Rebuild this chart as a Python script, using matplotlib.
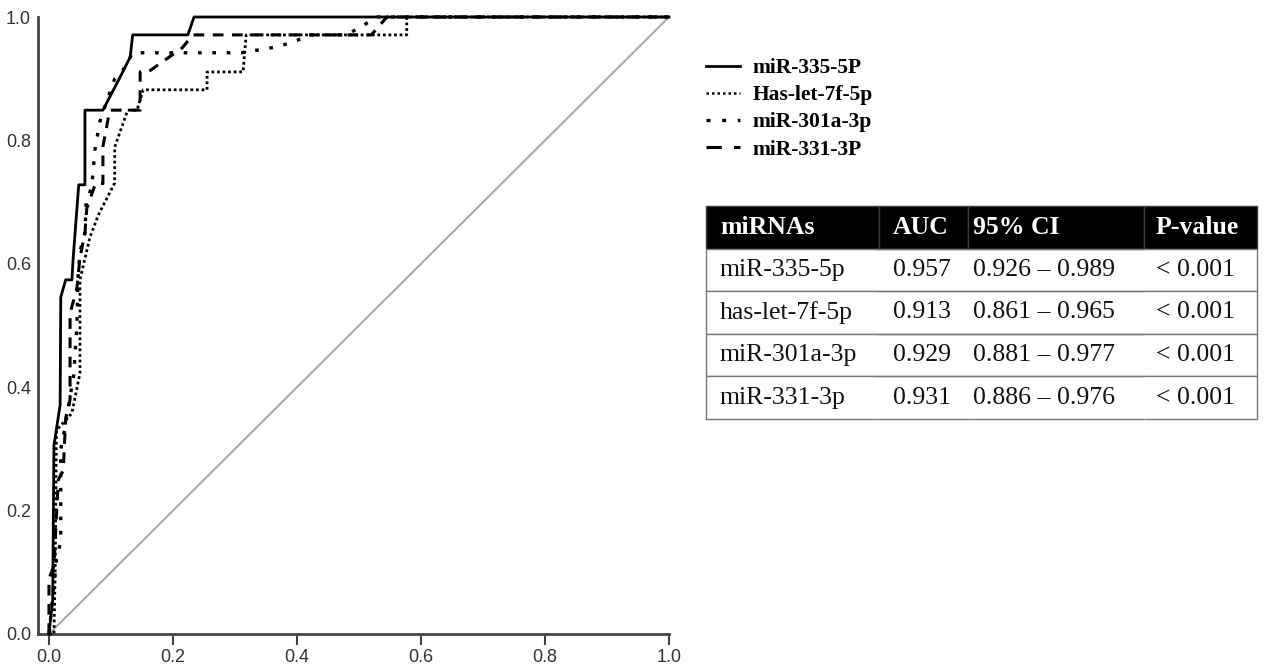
import matplotlib
matplotlib.use('Agg')
import matplotlib.pyplot as plt
from matplotlib.lines import Line2D
from matplotlib.font_manager import FontProperties

# ROC points (false positive rate, true positive rate)
fpr_335 = [0, 0.006, 0.008, 0.018, 0.019, 0.027, 0.037, 0.039, 0.048, 0.058, 0.058, 0.087,
           0.118, 0.131, 0.135, 0.224, 0.234, 1.0]
tpr_335 = [0, 0.055, 0.306, 0.371, 0.546, 0.574, 0.574, 0.609, 0.728, 0.728, 0.849, 0.849,
           0.909, 0.935, 0.971, 0.971, 1.0, 1.0]

fpr_let = [0, 0.008, 0.010, 0.012, 0.030, 0.037, 0.050, 0.050, 0.066, 0.080, 0.106, 0.106,
           0.127, 0.142, 0.152, 0.255, 0.255, 0.313, 0.318, 0.577, 0.577, 1.0]
tpr_let = [0, 0.0, 0.10, 0.33, 0.35, 0.358, 0.423, 0.574, 0.643, 0.68, 0.731, 0.789,
           0.849, 0.849, 0.882, 0.882, 0.911, 0.911, 0.971, 0.971, 1.0, 1.0]

fpr_301 = [0, 0.005, 0.012, 0.019, 0.019, 0.025, 0.030, 0.040, 0.045, 0.047, 0.050, 0.058,
           0.060, 0.069, 0.074, 0.082, 0.095, 0.106, 0.120, 0.135, 0.310, 0.370, 0.400,
           0.420, 0.480, 0.530, 1.0]
tpr_301 = [0, 0.05, 0.12, 0.15, 0.30, 0.33, 0.36, 0.42, 0.50, 0.58, 0.62, 0.65,
           0.70, 0.725, 0.784, 0.83, 0.869, 0.90, 0.915, 0.942, 0.942, 0.952, 0.962,
           0.971, 0.971, 1.0, 1.0]

fpr_331 = [0, 0.0, 0.008, 0.015, 0.023, 0.027, 0.034, 0.034, 0.045, 0.050, 0.058, 0.061,
           0.075, 0.087, 0.087, 0.098, 0.147, 0.147, 0.160, 0.215, 0.232, 0.520, 0.545, 1.0]
tpr_331 = [0, 0.09, 0.11, 0.25, 0.265, 0.35, 0.38, 0.52, 0.56, 0.61, 0.65, 0.69,
           0.73, 0.73, 0.79, 0.849, 0.849, 0.911, 0.911, 0.95, 0.971, 0.971, 1.0, 1.0]

legend_labels = ['miR-335-5P', 'Has-let-7f-5p', 'miR-301a-3p', 'miR-331-3P']
ticks = [0.0, 0.2, 0.4, 0.6, 0.8, 1.0]
tick_labels = ['0.0', '0.2', '0.4', '0.6', '0.8', '1.0']

table_header = ['miRNAs', 'AUC', '95% CI', 'P-value']
table_names = ['miR-335-5p', 'has-let-7f-5p', 'miR-301a-3p', 'miR-331-3p']
table_auc = ['0.957', '0.913', '0.929', '0.931']
table_ci = ['0.926 \u2013 0.989', '0.861 \u2013 0.965', '0.881 \u2013 0.977', '0.886 \u2013 0.976']
table_p = ['< 0.001', '< 0.001', '< 0.001', '< 0.001']

W, H = 1264, 670
fig = plt.figure(figsize=(W / 100, H / 100), dpi=100)
ax = fig.add_axes([38 / W, 36 / H, (669 - 38) / W, (634 - 17) / H])

styles = [
    dict(color='black', lw=2.0, ls='-'),
    dict(color='black', lw=2.0, ls=(0, (1, 1))),
    dict(color='black', lw=2.4, ls=(0, (1.1, 3.2))),
    dict(color='black', lw=2.2, ls=(0, (3.5, 2.8))),
]
curves = [(fpr_335, tpr_335), (fpr_let, tpr_let), (fpr_301, tpr_301), (fpr_331, tpr_331)]

ax.plot([0, 1], [0, 1], color='#aaaaaa', lw=1.5, clip_on=False, zorder=1)
for (x, y), st in zip(curves, styles):
    ax.plot(x, y, clip_on=False, zorder=3, **st)

ax.set_xlim(-0.0177, 1.0)
ax.set_ylim(0, 1.0)
ax.set_xticks(ticks)
ax.set_xticklabels(tick_labels)
ax.set_yticks(ticks)
ax.set_yticklabels(tick_labels)
for s in ['top', 'right']:
    ax.spines[s].set_visible(False)
for s in ['left', 'bottom']:
    ax.spines[s].set_color('#444444')
    ax.spines[s].set_linewidth(2)
ax.tick_params(axis='x', length=8, width=1.5, color='#444444', pad=3,
               labelsize=13, labelcolor='#333333')
ax.tick_params(axis='y', length=0, pad=5, labelsize=13, labelcolor='#333333')
for lab in ax.get_xticklabels() + ax.get_yticklabels():
    lab.set_family('Liberation Sans')

# legend
handles = [Line2D([0], [0], **st) for st in styles]
handles[1].set_linestyle((0, (1, 1.2)))
handles[1].set_linewidth(1.8)
handles[2].set_linestyle((0, (1.2, 3.5)))
handles[3].set_linestyle((0, (5, 4)))
fig.legend(handles, legend_labels, loc='upper left', bbox_to_anchor=(706 / W, 1 - 58 / H),
           frameon=False, prop=FontProperties(family='Liberation Serif', weight='bold', size=15.5),
           handlelength=1.6, handletextpad=0.55, labelspacing=0.33, borderpad=0, borderaxespad=0)

# table
tax = fig.add_axes([706 / W, (670 - 419) / H, 551 / W, 213 / H])
tax.axis('off')
col_px = [173, 89, 176, 113]
pad_px = [14, 14, 5, 12]
rows = [list(r) for r in zip(table_names, table_auc, table_ci, table_p)]
tbl = tax.table(cellText=rows, colLabels=table_header, colWidths=[c / sum(col_px) for c in col_px],
                cellLoc='left', colLoc='left', bbox=[0, 0, 1, 1])
tbl.auto_set_font_size(False)
for (r, c), cell in tbl.get_celld().items():
    cell.PAD = pad_px[c] / col_px[c]
    txt = cell.get_text()
    if r == 0:
        cell.set_facecolor('black')
        cell.set_edgecolor('#3a3a3a')
        cell.set_linewidth(1)
        txt.set_fontproperties(FontProperties(family='Liberation Serif', weight='bold', size=18.5))
        txt.set_color('white')
    else:
        cell.set_facecolor('white')
        cell.set_edgecolor('#777777')
        cell.set_linewidth(1)
        edges = 'BT'
        if c == 0:
            edges += 'L'
        if c == 3:
            edges += 'R'
        cell.visible_edges = edges
        txt.set_fontproperties(FontProperties(family='Liberation Serif', size=18.5))
        txt.set_color('#111111')

fig.savefig('out.png', dpi=100)
